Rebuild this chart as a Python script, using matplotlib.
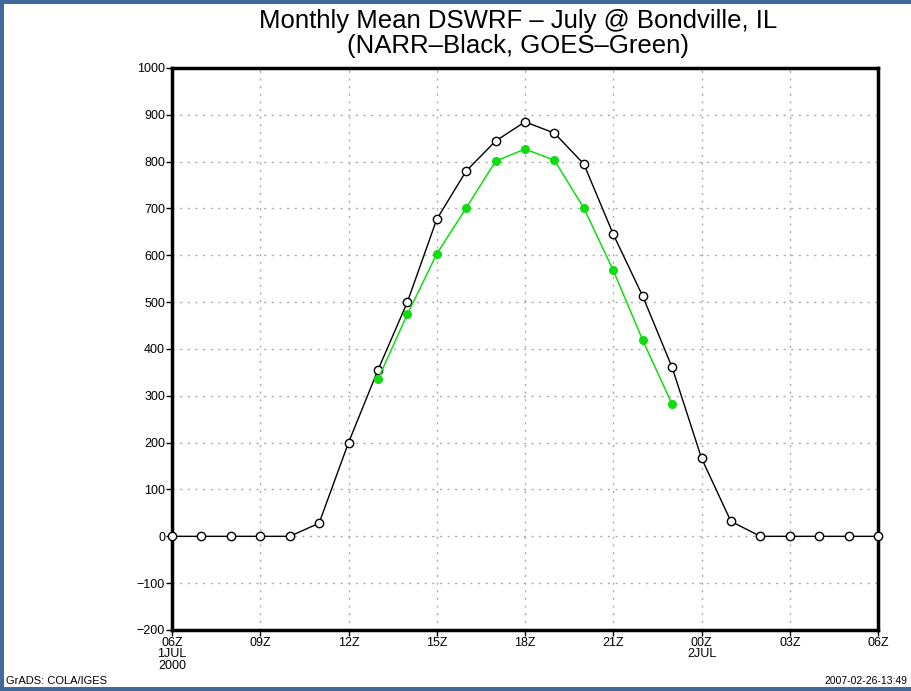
import matplotlib
matplotlib.use("Agg")
import matplotlib.pyplot as plt
from matplotlib.patches import Rectangle

hours = list(range(25))
narr = [0, 0, 0, 0, 0, 28, 200, 355, 500, 677, 780, 844, 885, 861, 795,
        645, 513, 361, 167, 32, 0, 0, 0, 0, 0]
goes_hours = list(range(7, 18))
goes = [335, 474, 603, 701, 801, 827, 803, 701, 568, 419, 282]

xtick_pos = [0, 3, 6, 9, 12, 15, 18, 21, 24]
xtick_labels = ["06Z\n1JUL\n2000", "09Z", "12Z", "15Z", "18Z", "21Z",
                "00Z\n2JUL", "03Z", "06Z"]
ytick_pos = list(range(-200, 1001, 100))

plt.rcParams["font.family"] = ["Liberation Sans", "DejaVu Sans"]

W, H = 911, 691
fig = plt.figure(figsize=(W / 100, H / 100), dpi=100)
fig.patch.set_facecolor("#41699c")
fig.add_artist(Rectangle((4 / W, 4 / H), 1, 683 / H, transform=fig.transFigure,
                         facecolor="white", edgecolor="none", zorder=0))

ax = fig.add_axes([172 / W, (H - 630) / H, 706 / W, 562 / H])
ax.set_xlim(0, 24)
ax.set_ylim(-200, 1000)
ax.set_xticks(xtick_pos)
ax.set_xticklabels(xtick_labels, linespacing=0.95)
ax.set_yticks(ytick_pos)
ax.grid(True, color="#aaaaaa", linestyle=(0, (1.5, 4)), linewidth=1)
ax.set_axisbelow(True)
for s in ax.spines.values():
    s.set_linewidth(2.5)
ax.tick_params(direction="out", length=4, width=1, pad=1, labelsize=9)

ax.plot(hours, narr, color="black", linewidth=1, marker="o", markersize=6,
        markerfacecolor="white", markeredgecolor="black", markeredgewidth=1,
        clip_on=False, zorder=3)
ax.plot(goes_hours, goes, color="#10dd10", linewidth=1.1, marker="o",
        markersize=5.5, markerfacecolor="#10dd10", markeredgecolor="#10dd10",
        zorder=4)

fig.text(518 / W, 1 - 21 / H, "Monthly Mean DSWRF \u2013 July @ Bondville, IL",
         ha="center", va="center", fontsize=18.5)
fig.text(518 / W, 1 - 46 / H, "(NARR\u2013Black, GOES\u2013Green)",
         ha="center", va="center", fontsize=18.5)
fig.text(6 / W, 1 - 681 / H, "GrADS: COLA/IGES", ha="left", va="center",
         fontsize=8)
fig.text(907 / W, 1 - 681 / H, "2007-02-26-13:49", ha="right", va="center",
         fontsize=7.5)

fig.savefig("out.png", dpi=100, facecolor=fig.get_facecolor())
